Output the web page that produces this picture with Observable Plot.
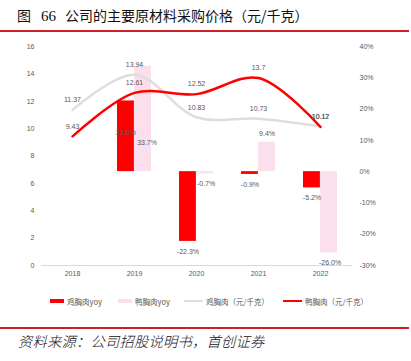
<!DOCTYPE html>
<html><head><meta charset="utf-8">
<script src="https://cdn.jsdelivr.net/npm/d3@7"></script>
<script src="https://cdn.jsdelivr.net/npm/@observablehq/plot@0.6"></script>
<style>
body{margin:0;background:#fff;}
#wrap{position:relative;width:411px;height:361px;overflow:hidden;font-family:"Noto Sans CJK SC","Noto Sans",sans-serif;}
#title{position:absolute;left:17px;top:5px;font-size:14px;line-height:20px;color:#111;white-space:nowrap;}
#title .num{font-family:"Liberation Serif",serif;font-size:15px;margin:0 9px 0 10px;}
.rule{position:absolute;left:0;width:409px;height:2px;background:#cc1f27;}
#chart{position:absolute;left:0;top:36px;}
#legend{position:absolute;top:295px;left:0;width:411px;height:12px;font-size:7.5px;color:#595959;}
.item{position:absolute;top:0;display:flex;align-items:center;white-space:nowrap;height:12px;}
.sw{display:inline-block;margin-right:3px;}
#source{position:absolute;left:18px;top:331px;font-size:14.3px;line-height:20px;font-style:italic;color:#111;white-space:nowrap;font-weight:300;letter-spacing:0.2px;}
</style></head>
<body>
<div id="wrap">
  <div id="title">图<span class="num">66</span>公司的主要原材料采购价格（元/千克）</div>
  <div class="rule" style="top:30px"></div>
  <div id="chart"></div>
  <div id="legend"></div>
  <div class="rule" style="top:327px"></div>
  <div id="source">资料来源：公司招股说明书，首创证券</div>
</div>
<script>
const years = ["2018", "2019", "2020", "2021", "2022"];
const chickenPrice = [11.37, 13.94, 10.83, 10.73, 10.17];
const duckPrice = [9.43, 12.61, 12.52, 13.7, 10.12];
const chickenYoy = [null, 22.6, -22.3, -0.9, -5.2];
const duckYoy = [null, 33.7, -0.7, 9.4, -26.0];
const leftTicks = [0, 2, 4, 6, 8, 10, 12, 14, 16];
const rightTicks = [-30, -20, -10, 0, 10, 20, 30, 40];
const seriesNames = ["鸡胸肉yoy", "鸭胸肉yoy", "鸡胸肉（元/千克）", "鸭胸肉（元/千克）"];

const RED = "#ff0000", PINK = "#fbdfed", GRAY = "#dedede", TXT = "#595959";
const lMin = leftTicks[0], lMax = leftTicks[leftTicks.length - 1];
const rMin = rightTicks[0], rMax = rightTicks[rightTicks.length - 1];
const toLeft = p => lMin + (p - rMin) / (rMax - rMin) * (lMax - lMin);
const fromLeft = v => rMin + (v - lMin) / (lMax - lMin) * (rMax - rMin);

const chick = years.map((y, i) => ({year: y, v: chickenPrice[i]}));
const duck = years.map((y, i) => ({year: y, v: duckPrice[i]}));
const cy = years.map((y, i) => ({year: y, v: chickenYoy[i]})).filter(d => d.v != null);
const dyy = years.map((y, i) => ({year: y, v: duckYoy[i]})).filter(d => d.v != null);
const pctFmt = d => d.v.toFixed(1) + "%";

const half = 17.1;
const chart = Plot.plot({
  width: 411, height: 250,
  marginLeft: 41, marginRight: 59, marginTop: 10, marginBottom: 21,
  style: {fontFamily: "Liberation Sans, Arial, sans-serif", fontSize: "7px", color: TXT, background: "#fff"},
  x: {type: "band", domain: years, paddingInner: 0.45, paddingOuter: 0.225, axis: null},
  y: {domain: [lMin, lMax], axis: null},
  marks: [
    Plot.barY(cy, {x: "year", y1: () => toLeft(0), y2: d => toLeft(d.v), fill: RED, insetRight: half, insetLeft: 0}),
    Plot.barY(dyy, {x: "year", y1: () => toLeft(0), y2: d => toLeft(d.v), fill: PINK, insetLeft: half, insetRight: 0}),
    Plot.ruleY([lMin], {stroke: "#d9d9d9", strokeWidth: 1}),
    Plot.line(chick, {x: "year", y: "v", stroke: GRAY, strokeWidth: 2.5, curve: "catmull-rom"}),
    Plot.line(duck, {x: "year", y: "v", stroke: RED, strokeWidth: 2.5, curve: "catmull-rom"}),
    Plot.text(chick, {x: "year", y: "v", text: d => String(d.v), dy: -10, fill: TXT}),
    Plot.text(duck, {x: "year", y: "v", text: d => String(d.v), dy: -10, fill: TXT}),
    // bar labels: 2019 inside bars
    Plot.text(cy.filter(d => d.year === "2019"), {x: "year", y: d => toLeft(d.v / 2), text: pctFmt, dx: -half / 2, dy: -4, fill: TXT}),
    Plot.text(dyy.filter(d => d.year === "2019"), {x: "year", y: d => toLeft(d.v / 2), text: pctFmt, dx: half / 2 + 4, dy: 24, fill: TXT}),
    // other bar labels at bar ends
    Plot.text(cy.filter(d => d.year !== "2019"), {x: "year", y: d => toLeft(d.v), text: pctFmt, dx: -half / 2, dy: 10, fill: TXT}),
    Plot.text(dyy.filter(d => d.year !== "2019" && d.v < 0), {x: "year", y: d => toLeft(d.v), text: pctFmt, dx: half / 2 + 1, dy: 10, fill: TXT}),
    Plot.text(dyy.filter(d => d.year !== "2019" && d.v > 0), {x: "year", y: d => toLeft(d.v), text: pctFmt, dx: half / 2, dy: -8, fill: TXT}),
    Plot.axisY(leftTicks, {anchor: "left", tickSize: 0, tickPadding: 7, label: null, fill: TXT}),
    Plot.axisY(rightTicks.map(toLeft), {anchor: "right", tickSize: 0, tickPadding: 7, label: null, fill: TXT,
      tickFormat: v => Math.round(fromLeft(v)) + "%"}),
    Plot.axisX(years, {tickSize: 0, tickPadding: 6, label: null, fill: TXT})
  ]
});
document.getElementById("chart").appendChild(chart);

const lg = document.getElementById("legend");
const lefts = [50, 118, 184, 283];
const sw = [
  {w: 14, h: 4, c: RED}, {w: 14, h: 4, c: PINK}, {w: 19, h: 2, c: GRAY}, {w: 19, h: 2, c: RED}
];
seriesNames.forEach((n, i) => {
  const it = document.createElement("div");
  it.className = "item";
  it.style.left = lefts[i] + "px";
  it.innerHTML = `<span class="sw" style="width:${sw[i].w}px;height:${sw[i].h}px;background:${sw[i].c}"></span>${n}`;
  lg.appendChild(it);
});
</script>
</body></html>
